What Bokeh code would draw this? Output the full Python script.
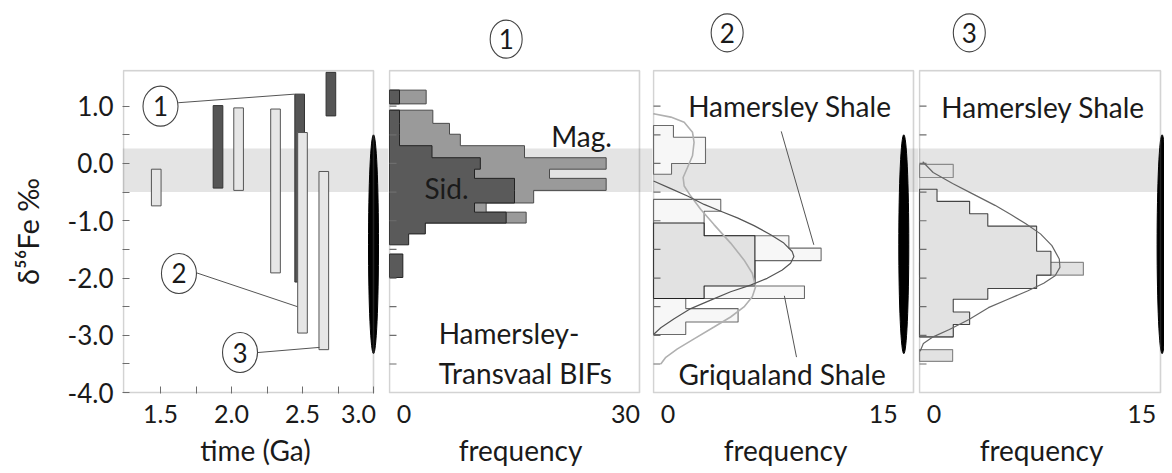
from bokeh.plotting import figure
from bokeh.layouts import row, column
from bokeh.models import Range1d, FixedTicker, BoxAnnotation, NumeralTickFormatter
from bokeh.core.properties import value
from bokeh.embed import file_html
from bokeh.resources import INLINE

FONT = "Lato"

# ---------------- data ----------------
# panel 1: d56Fe ranges versus age
dark_age = [1.905, 2.48, 2.70]
dark_min = [-0.43, -2.07, 0.83]
dark_max = [1.01, 1.21, 1.59]
light_age = [1.47, 2.05, 2.31, 2.50, 2.65]
light_min = [-0.74, -0.47, -1.91, -2.96, -3.25]
light_max = [-0.10, 0.97, 0.95, 0.54, -0.14]
time_ticks = [1.5, 2.0, 2.5, 3.0]
time_minor = [1.75, 2.25, 2.75]
d56_ticks = [-4.0, -3.0, -2.0, -1.0, 0.0, 1.0]
d56_minor = [-3.5, -2.5, -1.5, -0.5, 0.5]
callout_text = ["1", "2", "3"]
callout_x = [1.50, 1.63, 2.06]
callout_y = [1.00, -1.92, -3.30]
callout_from_x = [1.625, 1.755, 2.185]
callout_from_y = [1.06, -1.91, -3.30]
callout_to_x = [2.445, 2.465, 2.62]
callout_to_y = [1.21, -2.50, -3.21]

band_lo, band_hi = -0.50, 0.26          # grey reference band
igneous_mid, igneous_span = -1.41, 3.82  # black ellipses

# panel 2: Hamersley-Transvaal BIFs
bif_edges = [1.28, 1.04, 0.93, 0.70, 0.51, 0.31, 0.10, -0.10, -0.26, -0.47,
             -0.69, -0.85, -1.04, -1.23, -1.42, -1.58, -1.99]
mag_counts = [4.4, 0, 5.2, 7.2, 8.5, 16.2, 26.0, 19.2, 26.0, 17.3, 11.6, 16.4,
              0, 0, 0, 0]
sid_counts = [1.2, 0, 1.2, 1.2, 1.2, 5.1, 10.9, 10.2, 15.0, 15.0, 10.2, 14.0,
              4.3, 2.3, 0, 1.6]
bif_ticks = [0, 30]

# panel 3: Hamersley / Griqualand shale
p3_white_edges = [0.663, 0.457, 0.0, -0.188, -0.627, -0.833, -1.038, -1.261,
                  -1.478, -1.695, -2.14, -2.357, -2.533, -2.767, -2.985]
p3_white_counts = [1.15, 3.0, 1.04, 0, 3.88, 2.92, 2.92, 7.81, 9.67, 5.85,
                   8.71, 1.86, 4.88, 1.86]
p3_grey_edges = [-1.038, -1.261, -2.14, -2.357]
p3_grey_counts = [2.92, 5.85, 2.92]
p3_dark_c = [0, 1.0, 1.96, 2.92, 3.88, 4.84, 5.80, 6.76, 7.52, 8.0, 8.1, 7.91,
             7.43, 6.56, 5.60, 4.45, 3.30, 2.15, 1.19, 0.42, 0]
p3_dark_v = [-0.305, -0.44, -0.569, -0.715, -0.833, -0.95, -1.085, -1.243,
             -1.39, -1.536, -1.624, -1.741, -1.859, -2.005, -2.123, -2.24,
             -2.386, -2.533, -2.709, -2.867, -2.985]
p3_light_c = [0, 1.0, 1.77, 2.25, 2.34, 2.25, 1.96, 1.71, 1.77, 2.15, 2.73,
              3.49, 4.45, 5.22, 5.70, 5.89, 5.70, 5.22, 4.45, 3.49, 2.34, 1.38,
              0.71, 0.42]
p3_light_v = [0.868, 0.809, 0.721, 0.545, 0.369, 0.135, -0.07, -0.246, -0.393,
              -0.569, -0.803, -1.067, -1.39, -1.683, -1.917, -2.152, -2.328,
              -2.504, -2.68, -2.855, -3.061, -3.237, -3.383, -3.5]
p3_leader_x0 = [7.37, 8.25]
p3_leader_y0 = [0.56, -3.38]
p3_leader_x1 = [9.25, 7.55]
p3_leader_y1 = [-1.42, -2.31]
shale_ticks = [0, 15]

# panel 4: Hamersley shale
p4_edges = [-0.017, -0.245, -0.45, -0.661, -0.878, -1.094, -1.533, -1.727,
            -1.949, -2.183, -2.371, -2.593, -2.81, -3.026, -3.249, -3.454]
p4_main_counts = [0, 0, 1.09, 3.12, 4.25, 7.29, 8.18, 8.18, 7.29, 4.25, 2.1,
                  3.12, 2.1, 0, 0]
p4_outer_counts = [2.1, 0, 0, 0, 0, 0, 0, 10.2, 0, 0, 0, 0, 2.1, 0, 2.06]
p4_curve_c = [0.2, 0.85, 2.06, 3.28, 4.7, 5.71, 6.62, 7.53, 8.24, 8.70, 8.74,
              8.44, 7.73, 6.72, 5.51, 4.29, 3.08, 1.86, 0.85, 0.24, 0.04]
p4_curve_v = [0.03, -0.158, -0.35, -0.526, -0.731, -0.895, -1.053, -1.229,
              -1.434, -1.668, -1.814, -1.961, -2.09, -2.225, -2.37, -2.517,
              -2.722, -2.897, -3.026, -3.143, -3.278]

panel_numbers = ["1", "2", "3"]
panel_number_x = [14.0, 4.25, 3.1]
panel_number_y = [2.17, 2.28, 2.28]
igneous_x = [3.0, 14.44, 15.1]

# ---------------- layout constants ----------------
BOX_TOP = 1.62
BOX_BOTTOM = -4.0
Y0, Y1 = -4.015, 1.64
TOP_H = 69                 # strip with the circled panel numbers
FRAME_H = 324
BOTTOM = 79
PX_PER_UNIT = FRAME_H / (Y1 - Y0)
TOP_Y1 = Y1 + TOP_H / PX_PER_UNIT
BOX_COLOR = "#6e6e6e"
TEXT_COLOR = "#1a1a1a"
ESP = "\u2002"   # en space
TSP = "\u2004"   # three-per-em space
TEXT_LIFT = -9   # px, baseline correction for annotations


def hist_polys(edges, counts):
    xs, ys = [], []
    cx, cy = None, None
    for i, c in enumerate(counts):
        top, bot = edges[i], edges[i + 1]
        if c > 0:
            if cx is None:
                cx, cy = [0, c], [top, top]
            else:
                cx.append(c)
                cy.append(top)
            cx.append(c)
            cy.append(bot)
        elif cx is not None:
            cx.append(0)
            cy.append(cy[-1])
            xs.append(cx)
            ys.append(cy)
            cx = None
    if cx is not None:
        cx.append(0)
        cy.append(cy[-1])
        xs.append(cx)
        ys.append(cy)
    return xs, ys


def base_fig(width, height, x0, x1, y0, y1, left_border, bottom_border):
    p = figure(width=width, height=height, x_range=Range1d(x0, x1),
               y_range=Range1d(y0, y1), output_backend="svg",
               toolbar_location=None, title=None,
               min_border_left=left_border, min_border_right=0,
               min_border_top=0, min_border_bottom=bottom_border)
    p.grid.grid_line_color = None
    p.outline_line_color = None
    p.background_fill_color = "white"
    p.border_fill_color = "white"
    return p


def make_pair(frame_w, x0, x1, left_border):
    top = base_fig(frame_w + left_border, TOP_H, x0, x1, Y1, TOP_Y1,
                   left_border, 0)
    top.xaxis.visible = False
    top.yaxis.visible = False
    p = base_fig(frame_w + left_border, FRAME_H + BOTTOM, x0, x1, Y0, Y1,
                 left_border, BOTTOM)
    p.add_layout(BoxAnnotation(bottom=band_lo, top=band_hi,
                               fill_color="#e4e4e4", fill_alpha=1.0,
                               line_color=None, level="underlay"))
    return top, p


def style_xaxis(p, ticks, minor, label, overrides, fmt=None, bounds=None):
    ax = p.xaxis[0]
    ax.ticker = FixedTicker(ticks=ticks, minor_ticks=minor)
    if fmt is not None:
        ax.formatter = fmt
    ax.major_label_overrides = overrides
    ax.axis_line_color = None
    ax.major_tick_out = 0
    ax.minor_tick_out = 0
    ax.major_tick_in = 7 if minor else 0
    ax.minor_tick_in = 7 if minor else 0
    ax.major_tick_line_color = BOX_COLOR
    ax.minor_tick_line_color = BOX_COLOR
    ax.major_label_text_font = FONT
    ax.major_label_text_font_size = "25px"
    ax.major_label_text_color = TEXT_COLOR
    ax.major_label_standoff = 4
    ax.axis_label = label
    ax.axis_label_text_font = FONT
    ax.axis_label_text_font_size = "28px"
    ax.axis_label_text_font_style = "normal"
    ax.axis_label_text_color = TEXT_COLOR
    ax.axis_label_standoff = 2
    if bounds is not None:
        ax.bounds = bounds


def add_box(p, left, right):
    p.add_layout(BoxAnnotation(left=left, right=right, bottom=BOX_BOTTOM,
                               top=BOX_TOP, fill_color=None,
                               line_color=BOX_COLOR, line_width=1.6))


def add_inner_ticks(p):
    ticks = [t for t in sorted(d56_ticks + d56_minor) if t > BOX_BOTTOM]
    p.ray(x=[0] * len(ticks), y=ticks, length=7, length_units="screen",
          angle=0, line_color=BOX_COLOR, line_width=1.2)


def add_igneous(p, x):
    p.ellipse(x=[x], y=[igneous_mid], width=10, width_units="screen",
              height=igneous_span, fill_color="black", line_color="black")


def add_text(p, xs, ys, texts, size="28px", align="left",
             baseline="alphabetic", lift=TEXT_LIFT):
    p.text(x=xs, y=ys, text=texts, text_font=value(FONT),
           text_font_size=size, text_align=align, text_baseline=baseline,
           text_color=TEXT_COLOR, y_offset=lift)


def add_number(p, x, y, t, w=32, h=38):
    p.ellipse(x=[x], y=[y], width=w, height=h, width_units="screen",
              height_units="screen", fill_color="white", line_color="#444444",
              line_width=1.1)
    add_text(p, [x], [y], [t], size="26px", align="center", baseline="middle",
             lift=0)


# ---------------- panel 1 ----------------
W = 0.068
SC1 = 142.0
box_left1 = 1.5 - 37.0 / SC1
x_start1 = box_left1 - 1.0 / SC1
x_end1 = x_start1 + 266 / SC1
t1, p1 = make_pair(266, x_start1, x_end1, 122)
p1.quad(left=[a - W / 2 for a in dark_age], right=[a + W / 2 for a in dark_age],
        bottom=dark_min, top=dark_max, fill_color="#555555",
        line_color="#333333", line_width=1)
p1.quad(left=[a - W / 2 for a in light_age], right=[a + W / 2 for a in light_age],
        bottom=light_min, top=light_max, fill_color="#e6e6e6",
        line_color="#555555", line_width=1)
p1.segment(x0=callout_from_x, y0=callout_from_y, x1=callout_to_x,
           y1=callout_to_y, line_color="#555555", line_width=1)
for cx, cy, ct in zip(callout_x, callout_y, callout_text):
    add_number(p1, cx, cy, ct, w=35, h=40)
add_igneous(p1, igneous_x[0])
add_box(p1, box_left1, 3.0)
style_xaxis(p1, time_ticks, time_minor, "time (Ga)",
            {3.0: "3.0" + ESP}, fmt=NumeralTickFormatter(format="0.0"))
ya = p1.yaxis[0]
ya.ticker = FixedTicker(ticks=d56_ticks, minor_ticks=d56_minor)
ya.formatter = NumeralTickFormatter(format="0.0")
ya.axis_line_color = None
ya.major_tick_out = 0
ya.minor_tick_out = 0
ya.major_tick_in = 7
ya.minor_tick_in = 7
ya.major_tick_line_color = BOX_COLOR
ya.minor_tick_line_color = BOX_COLOR
ya.major_label_text_font = FONT
ya.major_label_text_font_size = "26px"
ya.major_label_text_color = TEXT_COLOR
ya.major_label_text_baseline = "alphabetic"
ya.major_label_standoff = 9
ya.axis_label = "δ⁵⁶Fe ‰"
ya.axis_label_text_font = FONT
ya.axis_label_text_font_size = "29px"
ya.axis_label_text_font_style = "normal"
ya.axis_label_text_color = TEXT_COLOR
ya.axis_label_standoff = 20

# ---------------- panel 2 ----------------
SC2 = 250 / 30.0
t2, p2 = make_pair(264, -1.0 / SC2, (264 - 1.0) / SC2, 0)
p2.yaxis.visible = False
mx, my = hist_polys(bif_edges, mag_counts)
p2.patches(xs=mx, ys=my, fill_color="#9a9a9a", line_color="#4a4a4a",
           line_width=1)
sx, sy = hist_polys(bif_edges, sid_counts)
p2.patches(xs=sx, ys=sy, fill_color="#5a5a5a", line_color="#222222",
           line_width=1)
add_text(p2, [19.4, 4.2], [0.33, -0.58], ["Mag.", "Sid."])
add_text(p2, [5.9, 5.9], [-3.12, -3.81], ["Hamersley-", "Transvaal BIFs"])
add_inner_ticks(p2)
add_box(p2, 0, 30)
add_number(t2, panel_number_x[0], panel_number_y[0], panel_numbers[0])
style_xaxis(p2, bif_ticks, [], "frequency",
            {0: TSP + "0", 30: "30" + ESP}, bounds=(0, 30))

# ---------------- panel 3 ----------------
SC3 = 260 / 15.0
t3, p3 = make_pair(266, -1.0 / SC3, (266 - 1.0) / SC3, 0)
p3.yaxis.visible = False
wx, wy = hist_polys(p3_white_edges, p3_white_counts)
p3.patches(xs=wx, ys=wy, fill_color="#f7f7f7", line_color="#6a6a6a",
           line_width=1.1)
gx, gy = hist_polys(p3_grey_edges, p3_grey_counts)
p3.patches(xs=gx, ys=gy, fill_color="#e2e2e2", line_color="#222222",
           line_width=1.1)
p3.line(p3_light_c, p3_light_v, line_color="#b0b0b0", line_width=1.6)
p3.line(p3_dark_c, p3_dark_v, line_color="#555555", line_width=1.2)
p3.segment(x0=p3_leader_x0, y0=p3_leader_y0, x1=p3_leader_x1,
           y1=p3_leader_y1, line_color="#555555", line_width=1)
add_text(p3, [2.0, 1.44], [0.85, -3.84], ["Hamersley Shale", "Griqualand Shale"])
add_igneous(p3, igneous_x[1])
add_inner_ticks(p3)
add_box(p3, 0, 15)
add_number(t3, panel_number_x[1], panel_number_y[1], panel_numbers[1])
style_xaxis(p3, shale_ticks, [], "frequency",
            {0: TSP + "0", 15: "15" + ESP + TSP}, bounds=(0, 15))

# ---------------- panel 4 ----------------
SC4 = 241 / 15.0
t4, p4 = make_pair(246, -1.0 / SC4, (246 - 1.0) / SC4, 0)
p4.yaxis.visible = False
ox, oy = hist_polys(p4_edges, p4_outer_counts)
p4.patches(xs=ox, ys=oy, fill_color="#e2e2e2", line_color="#8a8a8a",
           line_width=1.2)
ax_, ay_ = hist_polys(p4_edges, p4_main_counts)
p4.patches(xs=ax_, ys=ay_, fill_color="#e2e2e2", line_color="#444444",
           line_width=1.1)
p4.line(p4_curve_c, p4_curve_v, line_color="#666666", line_width=1.2)
add_text(p4, [1.36], [0.83], ["Hamersley Shale"])
add_igneous(p4, igneous_x[2])
add_inner_ticks(p4)
add_box(p4, 0, 15)
add_number(t4, panel_number_x[2], panel_number_y[2], panel_numbers[2])
style_xaxis(p4, shale_ticks, [], "frequency",
            {0: TSP + "0", 15: "15" + TSP}, bounds=(0, 15))

layout = column(row(t1, t2, t3, t4), row(p1, p2, p3, p4))
open("out.html", "w").write(file_html(layout, INLINE))
